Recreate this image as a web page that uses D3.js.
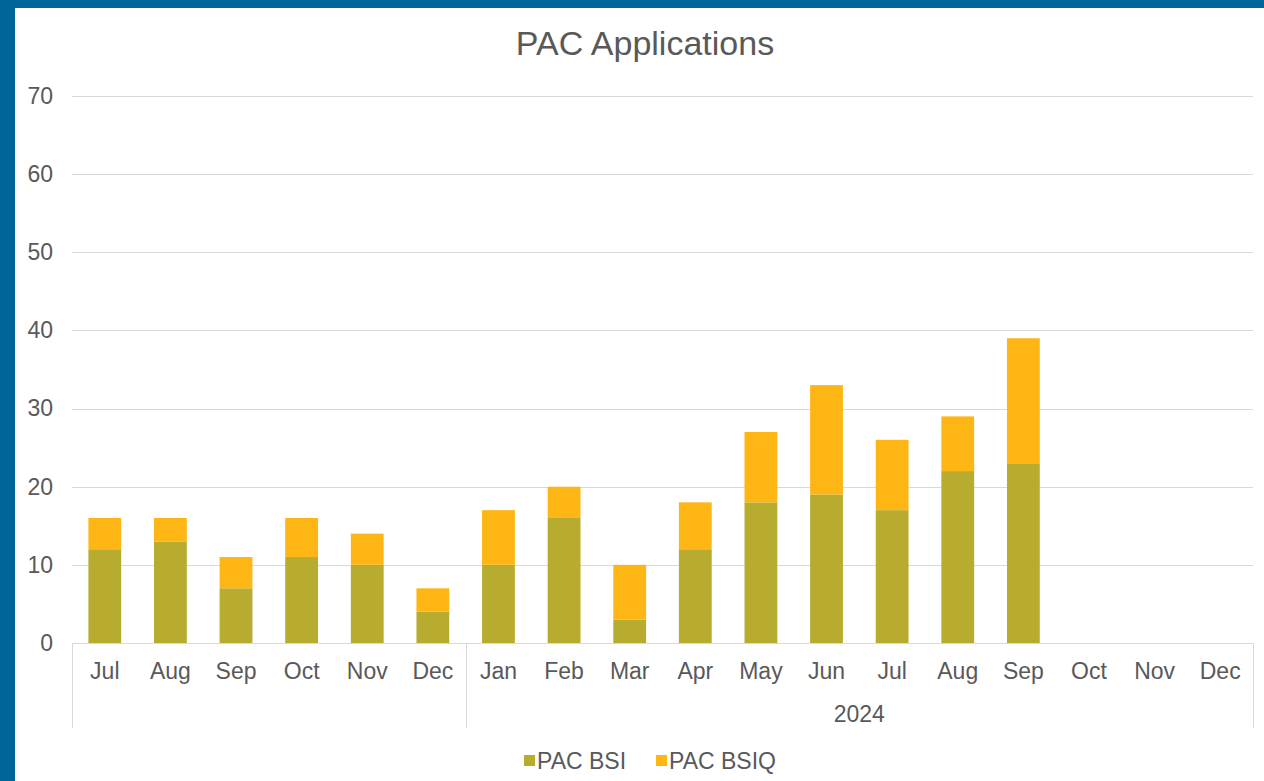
<!DOCTYPE html>
<html>
<head>
<meta charset="utf-8">
<script src="https://cdn.jsdelivr.net/npm/d3@7"></script>
<style>
  html, body { margin: 0; padding: 0; background: #006699; }
  svg { display: block; }
  text { font-family: "Liberation Sans", Arial, sans-serif; fill: #595959; }
</style>
</head>
<body>
<svg id="chart" width="1264" height="781"></svg>
<script>
// Monthly categories (Jul 2023 – Dec 2024)
const months = ["Jul", "Aug", "Sep", "Oct", "Nov", "Dec",
                "Jan", "Feb", "Mar", "Apr", "May", "Jun", "Jul", "Aug", "Sep", "Oct", "Nov", "Dec"];
// Outer category level: group labels and how many months each spans
const groupLabels = ["", "2024"];
const groupSizes = [6, 12];
// Series values
const pacBSI  = [12, 13, 7, 11, 10, 4, 10, 16, 3, 12, 18, 19, 17, 22, 23, null, null, null];
const pacBSIQ = [4, 3, 4, 5, 4, 3, 7, 4, 7, 6, 9, 14, 9, 7, 16, null, null, null];
const seriesNames = ["PAC BSI", "PAC BSIQ"];
const yTicks = [0, 10, 20, 30, 40, 50, 60, 70];

const colors = { "PAC BSI": "#B7AC2F", "PAC BSIQ": "#FDB614" };

const svg = d3.select("#chart");
const W = 1264, H = 781;

// white card inside the blue frame
svg.append("rect").attr("x", 15).attr("y", 8).attr("width", W - 15).attr("height", H - 8).attr("fill", "#ffffff");

const plotLeft = 72, plotRight = 1253, plotTop = 96, plotBottom = 643;

const idx = months.map((_, i) => i);
const x = d3.scaleBand().domain(idx).range([plotLeft, plotRight]).paddingInner(0.5).paddingOuter(0.25);
const y = d3.scaleLinear().domain([0, 70]).range([plotBottom, plotTop]);

// title
svg.append("text")
  .attr("x", 645).attr("y", 55)
  .attr("text-anchor", "middle")
  .style("font-size", "34px")
  .text("PAC Applications");

// gridlines
svg.append("g").selectAll("line").data(yTicks).join("line")
  .attr("x1", plotLeft).attr("x2", plotRight)
  .attr("y1", d => Math.round(y(d)) + 0.5).attr("y2", d => Math.round(y(d)) + 0.5)
  .attr("stroke", "#d9d9d9").attr("stroke-width", 1);

// y axis labels
const yAxis = d3.axisLeft(y).tickValues(yTicks).tickSize(0).tickPadding(0);
const gy = svg.append("g").attr("transform", `translate(${plotLeft - 19},0)`).call(yAxis);
gy.select(".domain").remove();
gy.selectAll("text").style("font-size", "23px").attr("fill", "#595959").attr("font-family", null);

// stacked bars
const rows = idx.map(i => ({ i, "PAC BSI": pacBSI[i] || 0, "PAC BSIQ": pacBSIQ[i] || 0 }));
const stacked = d3.stack().keys(seriesNames)(rows);
svg.append("g").selectAll("g").data(stacked).join("g")
  .attr("fill", s => colors[s.key])
  .selectAll("rect").data(s => s.filter(d => d[1] > d[0])).join("rect")
  .attr("x", d => x(d.data.i))
  .attr("width", x.bandwidth())
  .attr("y", d => y(d[1]))
  .attr("height", d => y(d[0]) - y(d[1]));

// category axis (month level)
const xAxis = d3.axisBottom(x).tickFormat(i => months[i]).tickSize(0).tickPadding(20);
const gx = svg.append("g").attr("transform", `translate(0,${plotBottom})`).call(xAxis);
gx.select(".domain").remove();
gx.selectAll("text").style("font-size", "23px").attr("fill", "#595959").attr("font-family", null);

// baseline
svg.append("line")
  .attr("x1", plotLeft).attr("x2", plotRight)
  .attr("y1", plotBottom + 0.5).attr("y2", plotBottom + 0.5)
  .attr("stroke", "#d9d9d9");

// outer level: group separators and labels
const step = x.step();
let acc = 0;
const bounds = [0];
groupSizes.forEach(n => { acc += n; bounds.push(acc); });
const boundX = b => b === 0 ? plotLeft : (b === months.length ? plotRight : x(b) - step * x.paddingInner() / 2);
svg.append("g").selectAll("line").data(bounds).join("line")
  .attr("x1", b => Math.round(boundX(b)) + 0.5).attr("x2", b => Math.round(boundX(b)) + 0.5)
  .attr("y1", plotBottom).attr("y2", 728)
  .attr("stroke", "#d9d9d9");
svg.append("g").selectAll("text").data(groupLabels).join("text")
  .attr("x", (d, k) => (boundX(bounds[k]) + boundX(bounds[k + 1])) / 2)
  .attr("y", 722)
  .attr("text-anchor", "middle")
  .style("font-size", "23px")
  .text(d => d);

// legend
const legendItems = [{ name: "PAC BSI", x: 524 }, { name: "PAC BSIQ", x: 656 }];
const lg = svg.append("g").selectAll("g").data(legendItems).join("g")
  .attr("transform", d => `translate(${d.x},761)`);
lg.append("rect").attr("x", 0).attr("y", -6).attr("width", 11).attr("height", 11)
  .attr("fill", d => colors[d.name]);
lg.append("text").attr("x", 13).attr("y", 8).style("font-size", "23px").text(d => d.name);
</script>
</body>
</html>
